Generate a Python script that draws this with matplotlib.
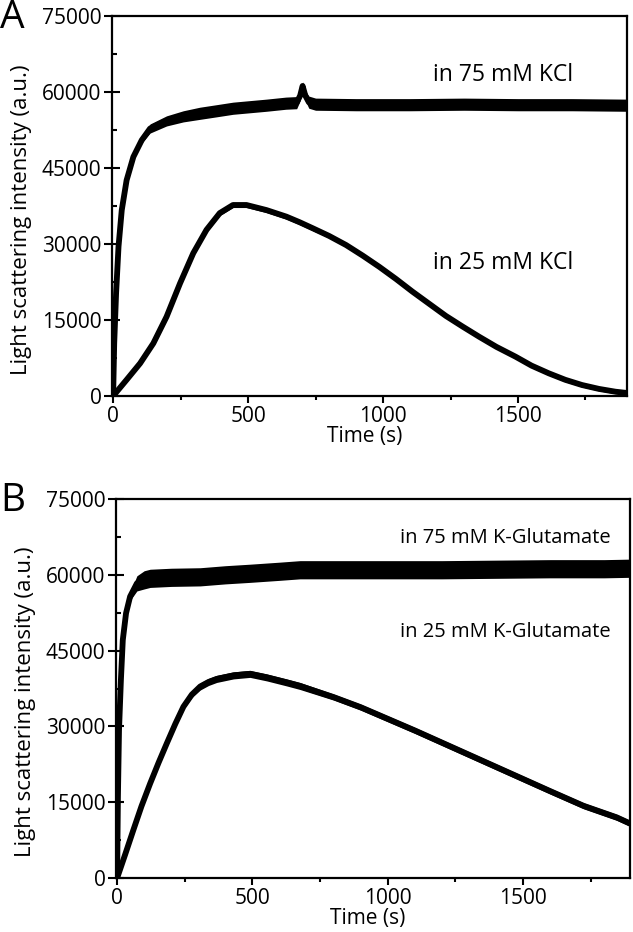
"""Light scattering kinetics in two salt conditions (panels A and B)"""

import numpy as np
import matplotlib

matplotlib.use("Agg")
import matplotlib.pyplot as plt
from matplotlib.ticker import MultipleLocator

plt.rcParams["font.family"] = ["Open Sans", "DejaVu Sans"]

# Panel A, 75 mM KCl
time_a75 = [0, 4, 11, 20, 32, 50, 75, 106, 137, 198, 260, 321, 383, 444, 506,
            568, 640, 680, 693, 702, 712, 725, 750, 900, 1100, 1300, 1500,
            1700, 1900]
int_a75 = [0, 10400, 20300, 29500, 36700, 42600, 47200, 50500, 52800, 54300,
           55200, 55800, 56300, 56800, 57100, 57400, 57800, 57900, 59300, 61200,
           59300, 58000, 57600, 57500, 57500, 57600, 57500, 57500, 57400]
spread_a75 = [0, 0, 0, 0, 0, 100, 300, 600, 900, 1000, 1100, 1200, 1200, 1200,
              1200, 1200, 1200, 1200, 1000, 800, 1000, 1200, 1200, 1200, 1200,
              1200, 1200, 1200, 1200]

# Panel A, 25 mM KCl
time_a25 = [0, 50, 100, 149, 198, 248, 297, 346, 395, 444, 494, 568, 642, 691,
            740, 800, 863, 925, 986, 1048, 1109, 1171, 1233, 1295, 1356, 1420,
            1491, 1550, 1614, 1675, 1737, 1800, 1861, 1895]
int_a25 = [0, 3200, 6450, 10400, 15650, 22250, 28200, 32800, 36100, 37700,
           37700, 36700, 35400, 34300, 33100, 31600, 29800, 27700, 25500, 23100,
           20600, 18200, 15800, 13700, 11700, 9700, 7760, 6000, 4480, 3200,
           2170, 1400, 850, 650]
spread_a25 = [0, 200, 200, 200, 300, 300, 400, 500, 500, 500, 500, 500, 500,
              500, 500, 400, 400, 400, 400, 400, 400, 400, 400, 400, 400, 400,
              400, 400, 400, 400, 400, 400, 400, 400]

# Panel B, 75 mM K-Glutamate
time_b75 = [0, 3, 7, 14, 21, 33, 48, 73, 100, 122, 200, 307, 400, 491, 600,
            676, 800, 1000, 1200, 1400, 1600, 1800, 1895]
int_b75 = [0, 16100, 29300, 39200, 47100, 52400, 55700, 58300, 59000, 59300,
           59500, 59600, 60000, 60300, 60700, 61000, 61000, 61000, 61000, 61100,
           61200, 61200, 61300]
spread_b75 = [0, 0, 0, 0, 0, 300, 800, 1500, 1800, 1800, 1800, 1800, 1800,
              1800, 1800, 1800, 1800, 1800, 1800, 1800, 1800, 1800, 1800]

# Panel B, 25 mM K-Glutamate
time_b25 = [0, 30, 60, 90, 122, 153, 184, 215, 245, 276, 307, 338, 368, 430,
            491, 553, 627, 676, 800, 900, 1000, 1100, 1200, 1300, 1400, 1500,
            1600, 1723, 1846, 1895]
int_b25 = [0, 4700, 9500, 14200, 18700, 22800, 26700, 30500, 33900, 36300,
           37900, 38800, 39400, 40100, 40400, 39700, 38700, 38000, 35800, 33800,
           31500, 29200, 26800, 24400, 22000, 19600, 17200, 14300, 12000, 10800]
spread_b25 = [0, 200, 300, 400, 400, 400, 400, 500, 500, 600, 700, 700, 700,
              700, 700, 700, 700, 700, 600, 600, 600, 600, 600, 600, 600, 600,
              600, 600, 600, 600]

panels = [
    {
        "rect": [0.177, 0.5751, 0.8136, 0.4077],
        "xlim": (-4, 1904),
        "letter": "A",
        "letter_y": 1 - 28 / 932,
        "note_size": 16.5,
        "series": [
            (time_a75, int_a75, spread_a75, "in 75 mM KCl", (0.759, 0.845)),
            (time_a25, int_a25, spread_a25, "in 25 mM KCl", (0.76, 0.35)),
        ],
    },
    {
        "rect": [0.1833, 0.0579, 0.812, 0.4067],
        "xlim": (-4, 1895),
        "letter": "B",
        "letter_y": 1 - 511 / 932,
        "note_size": 14.5,
        "series": [
            (time_b75, int_b75, spread_b75, "in 75 mM K-Glutamate", (0.757, 0.897)),
            (time_b25, int_b25, spread_b25, "in 25 mM K-Glutamate", (0.757, 0.649)),
        ],
    },
]

fig = plt.figure(figsize=(6.33, 9.32), dpi=100)

for panel in panels:
    ax = fig.add_axes(panel["rect"])

    for t, y, s, label, pos in panel["series"]:
        t = np.asarray(t, dtype=float)
        y = np.asarray(y, dtype=float)
        s = np.asarray(s, dtype=float)
        ax.fill_between(t, y - s, y + s, color="black", linewidth=0)
        ax.plot(t, y, color="black", linewidth=4.2, solid_joinstyle="round")
        ax.text(pos[0], pos[1], label, transform=ax.transAxes,
                fontsize=panel["note_size"], ha="center", va="center")

    ax.set_xlim(*panel["xlim"])
    ax.set_ylim(0, 75000)
    ax.set_xticks([0, 500, 1000, 1500])
    ax.xaxis.set_minor_locator(MultipleLocator(250))
    ax.set_yticks(np.arange(0, 75001, 15000))
    ax.yaxis.set_minor_locator(MultipleLocator(7500))

    ax.tick_params(axis="x", which="major", direction="out", length=5, width=1.5,
                   pad=2, labelsize=15)
    ax.tick_params(axis="x", which="minor", direction="out", length=3, width=1.5)
    ax.tick_params(axis="y", which="major", direction="inout", length=11,
                   width=1.5, pad=2, labelsize=15)
    ax.tick_params(axis="y", which="minor", direction="in", length=3.5, width=1.5)

    for spine in ax.spines.values():
        spine.set_linewidth(1.6)

    ax.set_xlabel("Time (s)", fontsize=15)
    ax.xaxis.set_label_coords(0.49, -0.08)
    ax.set_ylabel("Light scattering intensity (a.u.)", fontsize=16)
    ax.yaxis.set_label_coords(-0.155, 0.465)

    fig.text(0.0, panel["letter_y"], panel["letter"], fontsize=28,
             ha="left", va="baseline")

fig.savefig("out.png", dpi=100, facecolor="white")
